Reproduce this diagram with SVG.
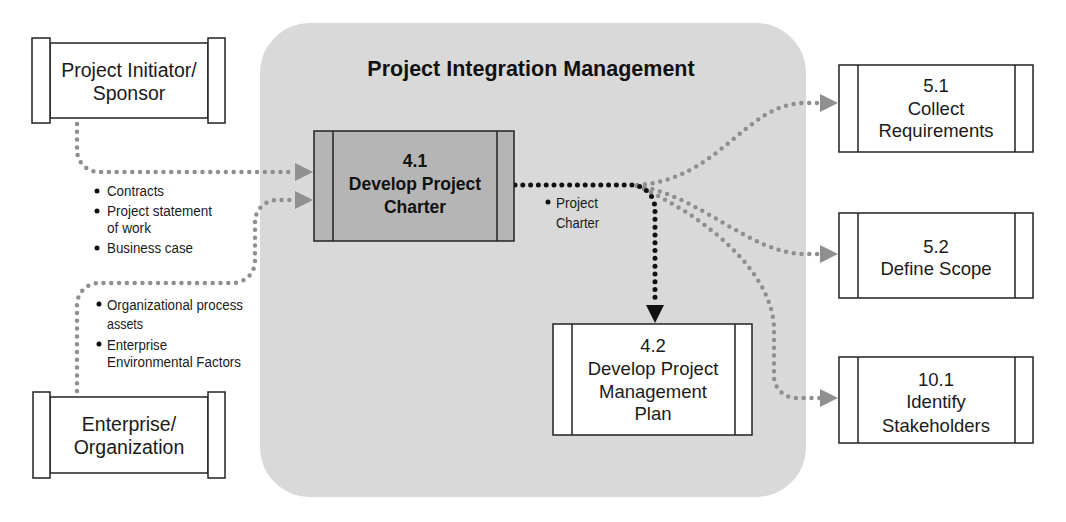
<svg xmlns="http://www.w3.org/2000/svg" width="1066" height="522" viewBox="0 0 1066 522">
<style>
.bg{fill:#ffffff}
.box{fill:#ffffff;stroke:#222;stroke-width:1.5}
.dark{fill:#b5b5b5;stroke:#222;stroke-width:1.5}
.ln{stroke:#222;stroke-width:1.5}
.t{font-family:"Liberation Sans",Arial,sans-serif;font-size:18.5px;fill:#1a1a1a;text-anchor:middle}
.tl{font-family:"Liberation Sans",Arial,sans-serif;font-size:19.5px;fill:#1a1a1a;text-anchor:middle}
.tb{font-family:"Liberation Sans",Arial,sans-serif;font-size:17.5px;font-weight:bold;fill:#111;text-anchor:middle}
.title{font-family:"Liberation Sans",Arial,sans-serif;font-size:21.5px;font-weight:bold;fill:#111;text-anchor:middle}
.s{font-family:"Liberation Sans",Arial,sans-serif;font-size:15.5px;fill:#1a1a1a}
.g{fill:none;stroke:#8f8f8f;stroke-width:4.5;stroke-linecap:round;stroke-dasharray:0 7.8}
.k{fill:none;stroke:#111;stroke-width:5;stroke-linecap:round;stroke-dasharray:0 7.8}
</style>
<defs>
<marker id="ag" markerUnits="userSpaceOnUse" markerWidth="18" markerHeight="18" refX="0" refY="9" orient="auto"><path d="M0,0 L18,9 L0,18 Z" fill="#8f8f8f"/></marker>
<marker id="ak" markerUnits="userSpaceOnUse" markerWidth="18" markerHeight="18" refX="0" refY="9" orient="auto"><path d="M0,0 L18,9 L0,18 Z" fill="#111"/></marker>
</defs>
<rect class="bg" x="0" y="0" width="1066" height="522"/>

<g id="container">
<rect x="260" y="23" width="546" height="474" rx="50" ry="50" fill="#d9d9d9"/>
<text class="title" x="531" y="76">Project Integration Management</text>
</g>

<g id="connectors">
<path class="g" d="M77,124 V150 A22,22 0 0 0 99,172 H295" marker-end="url(#ag)"/>
<path class="g" d="M77,391 V305 A22,22 0 0 1 99,283 H233 A22,22 0 0 0 255,261 V222 A22,22 0 0 1 277,200 H295" marker-end="url(#ag)"/>
<path class="g" d="M637,185 C720,180 745,103 805,103 H820" marker-end="url(#ag)"/>
<path class="g" d="M637,186 C700,195 750,254 805,254 H820" marker-end="url(#ag)"/>
<path class="g" d="M637,186 C700,213 774,270 774,330 V376 A22,22 0 0 0 796,398 H820" marker-end="url(#ag)"/>
<path class="k" d="M515,185 H631 A24,24 0 0 1 655,209 V305" marker-end="url(#ak)"/>
</g>

<g id="labels">
<circle cx="97" cy="191" r="2.5" fill="#111"/>
<text class="s" x="107" y="196" textLength="57" lengthAdjust="spacingAndGlyphs">Contracts</text>
<circle cx="97" cy="211" r="2.5" fill="#111"/>
<text class="s" x="107" y="216" textLength="105" lengthAdjust="spacingAndGlyphs">Project statement</text>
<text class="s" x="107" y="233" textLength="44" lengthAdjust="spacingAndGlyphs">of work</text>
<circle cx="97" cy="248" r="2.5" fill="#111"/>
<text class="s" x="107" y="253" textLength="86" lengthAdjust="spacingAndGlyphs">Business case</text>
<circle cx="99" cy="304" r="2.5" fill="#111"/>
<text class="s" x="107" y="310" textLength="136" lengthAdjust="spacingAndGlyphs">Organizational process</text>
<text class="s" x="107" y="329" textLength="36" lengthAdjust="spacingAndGlyphs">assets</text>
<circle cx="99" cy="344" r="2.5" fill="#111"/>
<text class="s" x="107" y="350" textLength="60" lengthAdjust="spacingAndGlyphs">Enterprise</text>
<text class="s" x="107" y="367" textLength="134" lengthAdjust="spacingAndGlyphs">Environmental Factors</text>
<circle cx="548" cy="202" r="2.5" fill="#111"/>
<text class="s" x="556" y="208" textLength="42" lengthAdjust="spacingAndGlyphs">Project</text>
<text class="s" x="556" y="228" textLength="43" lengthAdjust="spacingAndGlyphs">Charter</text>
</g>

<g id="initiator">
<rect class="box" x="50" y="43" width="158" height="75"/>
<rect class="box" x="32" y="38" width="18" height="85"/>
<rect class="box" x="208" y="38" width="17" height="85"/>
<text class="tl" x="129" y="77">Project Initiator/</text>
<text class="tl" x="129" y="100">Sponsor</text>
</g>

<g id="enterprise">
<rect class="box" x="50" y="397" width="158" height="76"/>
<rect class="box" x="33" y="392" width="17" height="86"/>
<rect class="box" x="208" y="392" width="17" height="86"/>
<text class="tl" x="129" y="431">Enterprise/</text>
<text class="tl" x="129" y="454">Organization</text>
</g>

<g id="n41">
<rect class="dark" x="314" y="131" width="200" height="110"/>
<line class="ln" x1="333" y1="131" x2="333" y2="241"/>
<line class="ln" x1="497" y1="131" x2="497" y2="241"/>
<text class="tb" x="415" y="167">4.1</text>
<text class="tb" x="415" y="190">Develop Project</text>
<text class="tb" x="415" y="213">Charter</text>
</g>

<g id="n42">
<rect class="box" x="553" y="324" width="199" height="111"/>
<line class="ln" x1="572" y1="324" x2="572" y2="435"/>
<line class="ln" x1="735" y1="324" x2="735" y2="435"/>
<text class="t" x="653" y="352">4.2</text>
<text class="t" x="653" y="375">Develop Project</text>
<text class="t" x="653" y="398">Management</text>
<text class="t" x="653" y="420">Plan</text>
</g>

<g id="n51">
<rect class="box" x="839" y="65" width="194" height="87"/>
<line class="ln" x1="858" y1="65" x2="858" y2="152"/>
<line class="ln" x1="1015" y1="65" x2="1015" y2="152"/>
<text class="t" x="936" y="92">5.1</text>
<text class="t" x="936" y="115">Collect</text>
<text class="t" x="936" y="137">Requirements</text>
</g>

<g id="n52">
<rect class="box" x="839" y="213" width="194" height="85"/>
<line class="ln" x1="858" y1="213" x2="858" y2="298"/>
<line class="ln" x1="1015" y1="213" x2="1015" y2="298"/>
<text class="t" x="936" y="253">5.2</text>
<text class="t" x="936" y="275">Define Scope</text>
</g>

<g id="n101">
<rect class="box" x="839" y="357" width="194" height="86"/>
<line class="ln" x1="858" y1="357" x2="858" y2="443"/>
<line class="ln" x1="1015" y1="357" x2="1015" y2="443"/>
<text class="t" x="936" y="386">10.1</text>
<text class="t" x="936" y="408">Identify</text>
<text class="t" x="936" y="432">Stakeholders</text>
</g>
</svg>
